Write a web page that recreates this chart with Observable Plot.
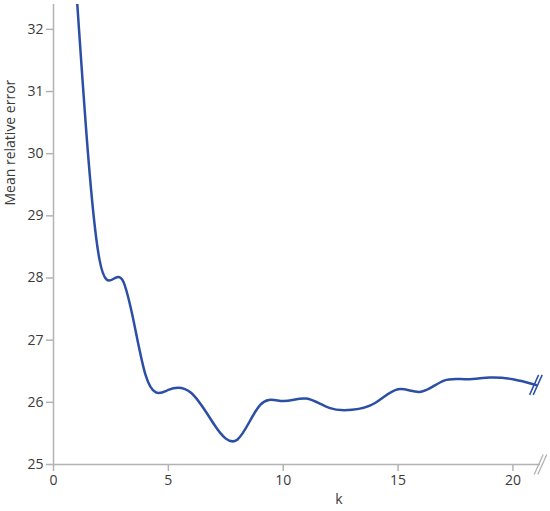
<!DOCTYPE html>
<html>
<head>
<meta charset="utf-8">
<script src="https://cdn.jsdelivr.net/npm/d3@7"></script>
<script src="https://cdn.jsdelivr.net/npm/@observablehq/plot@0.6"></script>
<style>
  html, body { margin: 0; padding: 0; background: #fff; }
  #chart { width: 550px; height: 511px; }
  svg { display: block; }
</style>
</head>
<body>
<div id="chart"></div>
<script>
// Data
const kValues = [1, 2, 3, 4, 5, 6, 7, 8, 9, 10, 11, 12, 13, 14, 15, 16, 17, 18, 19, 20, 21];
const errorValues = [32.6, 28.3, 27.97, 26.45, 26.2, 26.15, 25.64, 25.40, 25.96, 26.02, 26.06, 25.91, 25.88, 25.99, 26.21, 26.17, 26.35, 26.37, 26.40, 26.37, 26.28];
const xTicks = [0, 5, 10, 15, 20];
const yTicks = [25, 26, 27, 28, 29, 30, 31, 32];
const xDomain = [0, 21.2];
const yDomain = [25, 32.4];
const xLabel = "k";
const yLabel = "Mean relative error";

const data = kValues.map((k, i) => ({k, v: errorValues[i]}));
const lastPoint = [data[data.length - 1]];
const axisEnd = [{k: xDomain[1], v: yDomain[0]}];

// "//" axis-break symbol
const breakSymbol = {
  draw(ctx, size) {
    const h = 10, w = 4.5, g = 1.8;
    ctx.moveTo(-w - g, h); ctx.lineTo(w - g, -h);
    ctx.moveTo(-w + g, h); ctx.lineTo(w + g, -h);
  }
};

const axisColor = "#b3b3b3";
const textColor = "#3a3a3a";
const lineColor = "#2c4fa6";

const chart = Plot.plot({
  width: 550,
  height: 511,
  marginLeft: 53,
  marginRight: 10,
  marginTop: 4,
  marginBottom: 47,
  style: {fontFamily: "'Open Sans', 'Noto Sans', sans-serif", fontSize: "14px", background: "#fff"},
  x: {domain: xDomain, ticks: xTicks},
  y: {domain: yDomain, ticks: yTicks},
  marks: [
    Plot.ruleX([xDomain[0]], {stroke: axisColor, strokeWidth: 1.5}),
    Plot.ruleY([yDomain[0]], {stroke: axisColor, strokeWidth: 1.5}),
    Plot.axisX({ticks: xTicks, tickSize: 7, tickPadding: 4, stroke: axisColor, fill: textColor, label: null, strokeWidth: 1.5}),
    Plot.axisY({ticks: yTicks, tickSize: 7, tickPadding: 3, stroke: axisColor, fill: textColor, label: null, strokeWidth: 1.5}),
    Plot.text([xLabel], {frameAnchor: "bottom", dx: 42, dy: 35, lineAnchor: "middle", fill: textColor, fontSize: 14}),
    Plot.text([yLabel], {frameAnchor: "left", rotate: -90, dx: -43, dy: -29, lineAnchor: "middle", fill: textColor, fontSize: 14}),
    Plot.line(data, {x: "k", y: "v", curve: "natural", stroke: lineColor, strokeWidth: 2.5, clip: true}),
    Plot.dot(axisEnd, {x: "k", y: "v", symbol: breakSymbol, r: 8, stroke: axisColor, strokeWidth: 1.3, fill: "none"}),
    Plot.dot(lastPoint, {x: "k", y: "v", symbol: breakSymbol, r: 8, stroke: lineColor, strokeWidth: 1.5, fill: "none"})
  ]
});
document.getElementById("chart").appendChild(chart);
</script>
</body>
</html>
